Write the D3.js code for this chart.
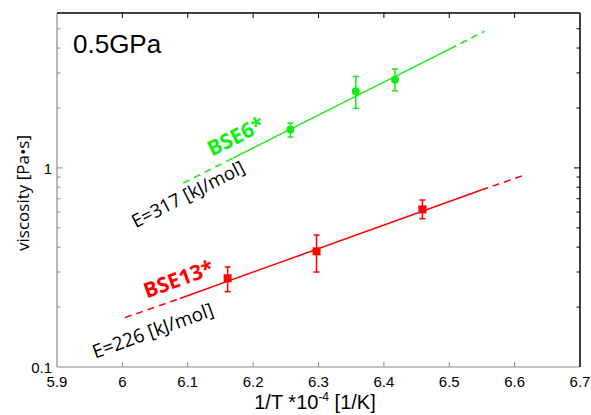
<!DOCTYPE html>
<html><head><meta charset="utf-8">
<script src="https://cdn.jsdelivr.net/npm/d3@7"></script>
<style>body{margin:0;background:#fff}</style>
</head><body>
<svg id="c" width="591" height="415"></svg>
<script>
// ---- data ----
const xTicks = [5.9, 6.0, 6.1, 6.2, 6.3, 6.4, 6.5, 6.6, 6.7];
const xTickLabels = ["5.9", "6", "6.1", "6.2", "6.3", "6.4", "6.5", "6.6", "6.7"];
const yMajorTicks = [0.1, 1];
const yMajorLabels = ["0.1", "1"];
const yMinorTicks = [0.2, 0.3, 0.4, 0.5, 0.6, 0.7, 0.8, 0.9, 2, 3, 4, 5];

const bse6X = [6.257, 6.357, 6.417];
const bse6Y = [1.56, 2.43, 2.77];
const bse6Lo = [1.43, 1.99, 2.44];
const bse6Hi = [1.68, 2.88, 3.14];
// fit line: [dash start, solid start, solid end, dash end]
const bse6FitX = [6.093, 6.169, 6.501, 6.554];
const bse6FitY = [0.838, 1.12, 3.96, 4.86];

const bse13X = [6.161, 6.297, 6.459];
const bse13Y = [0.279, 0.381, 0.619];
const bse13Lo = [0.239, 0.30, 0.556];
const bse13Hi = [0.318, 0.46, 0.69];
const bse13FitX = [6.004, 6.088, 6.549, 6.6125];
const bse13FitY = [0.177, 0.221, 0.774, 0.915];

// ---- layout ----
const svg = d3.select("#c");
const L = 57, R = 580, T = 13, B = 367;
const x = d3.scaleLinear().domain([5.9, 6.7]).range([L, R]);
const y = d3.scaleLog().domain([0.1, 6]).range([B, T]);

const gray = "#8a8a8a";
const sans = "Liberation Sans, Arial, sans-serif";
// frame
svg.append("line").attr("x1", L).attr("x2", L).attr("y1", T).attr("y2", B).attr("stroke", gray).attr("stroke-width", 1.2);
svg.append("line").attr("x1", L).attr("x2", R).attr("y1", B).attr("y2", B).attr("stroke", gray).attr("stroke-width", 1.2);
svg.append("line").attr("x1", L).attr("x2", R).attr("y1", T).attr("y2", T).attr("stroke", "#000").attr("stroke-width", 1.5);
svg.append("line").attr("x1", R).attr("x2", R).attr("y1", T).attr("y2", B).attr("stroke", "#000").attr("stroke-width", 1.5);

// x ticks (bottom & top, inward)
xTicks.slice(1, -1).forEach(v => {
  svg.append("line").attr("x1", x(v)).attr("x2", x(v)).attr("y1", B).attr("y2", B - 5).attr("stroke", gray);
  svg.append("line").attr("x1", x(v)).attr("x2", x(v)).attr("y1", T).attr("y2", T + 5).attr("stroke", "#000");
});
xTicks.forEach((v, i) => {
  svg.append("text").attr("x", x(v)).attr("y", 387).attr("text-anchor", "middle")
    .attr("font-family", sans).attr("font-size", 15).text(xTickLabels[i]);
});
// y ticks
yMajorTicks.forEach((v, i) => {
  if (v !== 0.1) {
    svg.append("line").attr("x1", L).attr("x2", L + 6).attr("y1", y(v)).attr("y2", y(v)).attr("stroke", gray);
    svg.append("line").attr("x1", R).attr("x2", R - 6).attr("y1", y(v)).attr("y2", y(v)).attr("stroke", "#000");
  }
  svg.append("text").attr("x", 52).attr("y", y(v) + 6).attr("text-anchor", "end")
    .attr("font-family", sans).attr("font-size", 15).text(yMajorLabels[i]);
});
yMinorTicks.forEach(v => {
  svg.append("line").attr("x1", L).attr("x2", L + 3.5).attr("y1", y(v)).attr("y2", y(v)).attr("stroke", gray);
  svg.append("line").attr("x1", R).attr("x2", R - 3.5).attr("y1", y(v)).attr("y2", y(v)).attr("stroke", "#000");
});

// axis labels
const xl = svg.append("text").attr("x", 315).attr("y", 409).attr("text-anchor", "middle")
  .attr("font-family", sans).attr("font-size", 20);
xl.append("tspan").text("1/T *10");
xl.append("tspan").attr("font-size", 12).attr("dy", -8).text("-4");
xl.append("tspan").attr("dy", 8).text(" [1/K]");
svg.append("text").attr("transform", "translate(29,193) rotate(-90)").attr("text-anchor", "middle")
  .attr("font-family", "Open Sans, sans-serif").attr("font-size", 17).text("viscosity [Pa\u2022s]");

svg.append("text").attr("x", 73).attr("y", 53).attr("font-family", sans)
  .attr("font-size", 26).text("0.5GPa");

// fit lines and points
function series(fx, fy, px, py, lo, hi, color, square) {
  const pts = fx.map((v, i) => [x(v), y(fy[i])]);
  const seg = (a, b, dash) => svg.append("line").attr("x1", pts[a][0]).attr("y1", pts[a][1])
    .attr("x2", pts[b][0]).attr("y2", pts[b][1]).attr("stroke", color).attr("stroke-width", 1.5)
    .attr("stroke-dasharray", dash);
  seg(0, 1, "7,5");
  seg(1, 2, null);
  seg(2, 3, "7,5");
  px.forEach((v, i) => {
    const cx = x(v);
    svg.append("line").attr("x1", cx).attr("x2", cx).attr("y1", y(lo[i])).attr("y2", y(hi[i])).attr("stroke", color).attr("stroke-width", 1.5);
    [lo[i], hi[i]].forEach(e => svg.append("line").attr("x1", cx - 3).attr("x2", cx + 3).attr("y1", y(e)).attr("y2", y(e)).attr("stroke", color).attr("stroke-width", 1.5));
    if (square) svg.append("rect").attr("x", cx - 4).attr("y", y(py[i]) - 4).attr("width", 8).attr("height", 8).attr("fill", color);
    else svg.append("circle").attr("cx", cx).attr("cy", y(py[i])).attr("r", 4).attr("fill", color);
  });
}
series(bse6FitX, bse6FitY, bse6X, bse6Y, bse6Lo, bse6Hi, "#11ee11", false);
series(bse13FitX, bse13FitY, bse13X, bse13Y, bse13Lo, bse13Hi, "#ff0000", true);

// annotations
function ann(cx, cy, ang, txt, color, size, weight) {
  svg.append("text").attr("transform", `translate(${cx},${cy}) rotate(${ang})`).attr("text-anchor", "middle")
    .attr("font-family", "Open Sans, sans-serif").attr("font-size", size).attr("font-weight", weight)
    .attr("fill", color).text(txt);
}
ann(239, 143, -27, "BSE6*", "#11ee11", 21, "bold");
ann(191, 200, -27, "E=317 [kJ/mol]", "#000", 18.5, "normal");
ann(181, 286, -20, "BSE13*", "#ff0000", 21, "bold");
ann(155, 337, -20, "E=226 [kJ/mol]", "#000", 19, "normal");
</script>
</body></html>
